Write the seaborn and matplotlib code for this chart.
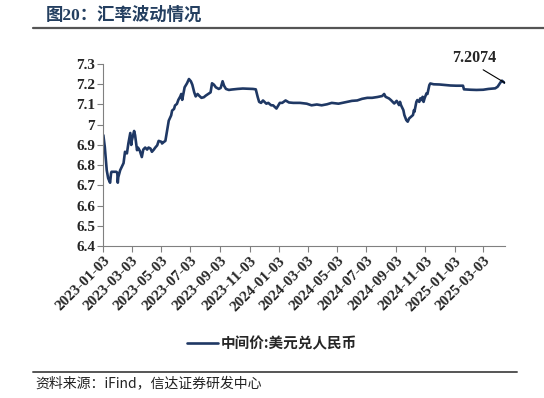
import pandas as pd
import seaborn as sns
import matplotlib.pyplot as plt

# USD/CNY central parity (approximate)
dates = [
    "2023-01-03", "2023-01-06", "2023-01-10", "2023-01-13", "2023-01-17", "2023-01-19",
    "2023-01-20", "2023-01-30", "2023-02-01", "2023-02-02", "2023-02-03", "2023-02-07",
    "2023-02-10", "2023-02-14", "2023-02-17", "2023-02-21", "2023-02-24", "2023-02-28",
    "2023-03-02", "2023-03-03", "2023-03-08", "2023-03-10", "2023-03-14", "2023-03-16",
    "2023-03-20", "2023-03-24", "2023-03-27", "2023-03-31", "2023-04-04", "2023-04-07",
    "2023-04-11", "2023-04-14", "2023-04-18", "2023-04-21", "2023-04-25", "2023-04-28",
    "2023-05-04", "2023-05-05", "2023-05-09", "2023-05-12", "2023-05-15", "2023-05-17",
    "2023-05-19", "2023-05-24", "2023-05-26", "2023-05-30", "2023-06-01", "2023-06-05",
    "2023-06-08", "2023-06-12", "2023-06-14", "2023-06-16", "2023-06-19", "2023-06-21",
    "2023-06-26", "2023-06-30", "2023-07-04", "2023-07-07", "2023-07-11", "2023-07-14",
    "2023-07-18", "2023-07-21", "2023-07-26", "2023-07-31", "2023-08-04", "2023-08-09",
    "2023-08-14", "2023-08-17", "2023-08-21", "2023-08-25", "2023-08-31", "2023-09-04",
    "2023-09-08", "2023-09-11", "2023-09-15", "2023-09-21", "2023-09-27", "2023-10-09",
    "2023-10-20", "2023-11-01", "2023-11-10", "2023-11-16", "2023-11-20", "2023-11-23",
    "2023-11-27", "2023-12-01", "2023-12-08", "2023-12-12", "2023-12-18", "2023-12-22",
    "2023-12-29", "2024-01-05", "2024-01-10", "2024-01-17", "2024-01-24", "2024-02-02",
    "2024-02-16", "2024-03-01", "2024-03-11", "2024-03-22", "2024-04-01", "2024-04-12",
    "2024-04-22", "2024-05-06", "2024-05-14", "2024-05-24", "2024-06-03", "2024-06-14",
    "2024-06-24", "2024-07-05", "2024-07-15", "2024-07-26", "2024-08-05", "2024-08-09",
    "2024-08-12", "2024-08-19", "2024-08-23", "2024-08-30", "2024-09-04", "2024-09-09",
    "2024-09-11", "2024-09-13", "2024-09-18", "2024-09-20", "2024-09-24", "2024-09-27",
    "2024-09-30", "2024-10-08", "2024-10-10", "2024-10-11", "2024-10-15", "2024-10-17",
    "2024-10-21", "2024-10-23", "2024-10-25", "2024-10-28", "2024-10-30", "2024-11-01",
    "2024-11-05", "2024-11-07", "2024-11-11", "2024-11-13", "2024-11-20", "2024-12-02",
    "2024-12-15", "2024-12-25", "2025-01-06", "2025-01-17", "2025-01-20", "2025-01-22",
    "2025-02-05", "2025-02-17", "2025-03-03", "2025-03-14", "2025-03-28", "2025-04-02",
    "2025-04-09", "2025-04-11", "2025-04-15", "2025-04-17",
]
rate = [
    6.948, 6.890, 6.775, 6.735, 6.713, 6.760,
    6.767, 6.767, 6.762, 6.713, 6.740, 6.775,
    6.790, 6.810, 6.866, 6.858, 6.907, 6.959,
    6.900, 6.920, 6.969, 6.948, 6.874, 6.887,
    6.870, 6.840, 6.877, 6.887, 6.877, 6.887,
    6.882, 6.866, 6.877, 6.887, 6.898, 6.920,
    6.915, 6.907, 6.915, 6.920, 6.964, 6.990,
    7.020, 7.046, 7.070, 7.078, 7.095, 7.103,
    7.123, 7.140, 7.152, 7.123, 7.160, 7.185,
    7.205, 7.226, 7.215, 7.198, 7.160, 7.140,
    7.152, 7.144, 7.133, 7.136, 7.144, 7.152,
    7.160, 7.205, 7.198, 7.185, 7.177, 7.182,
    7.215, 7.193, 7.177, 7.172, 7.174, 7.177,
    7.179, 7.178, 7.177, 7.175, 7.137, 7.113,
    7.108, 7.120, 7.104, 7.108, 7.096, 7.096,
    7.080, 7.108, 7.108, 7.120, 7.110, 7.108,
    7.108, 7.104, 7.096, 7.100, 7.096, 7.101,
    7.108, 7.104, 7.108, 7.113, 7.118, 7.120,
    7.128, 7.133, 7.133, 7.137, 7.142, 7.152,
    7.138, 7.130, 7.122, 7.105, 7.118, 7.097,
    7.113, 7.097, 7.072, 7.048, 7.023, 7.015,
    7.031, 7.048, 7.072, 7.064, 7.113, 7.122,
    7.113, 7.130, 7.122, 7.138, 7.113, 7.130,
    7.155, 7.152, 7.196, 7.204, 7.200, 7.199,
    7.196, 7.194, 7.193, 7.193, 7.193, 7.175,
    7.173, 7.172, 7.173, 7.177, 7.180, 7.188,
    7.213, 7.218, 7.210, 7.2074,
]
tick_dates = [
    "2023-01-03", "2023-03-03", "2023-05-03", "2023-07-03", "2023-09-03",
    "2023-11-03", "2024-01-03", "2024-03-03", "2024-05-03", "2024-07-03",
    "2024-09-03", "2024-11-03", "2025-01-03", "2025-03-03",
]
y_ticks = [6.4, 6.5, 6.6, 6.7, 6.8, 6.9, 7.0, 7.1, 7.2, 7.3]
y_labels = ["6.4", "6.5", "6.6", "6.7", "6.8", "6.9", "7", "7.1", "7.2", "7.3"]
series_name = "中间价:美元兑人民币"

df = pd.DataFrame({"date": pd.to_datetime(dates), "rate": rate})

sns.set_style("white")
plt.rcParams["font.family"] = ["Liberation Serif", "Noto Sans CJK SC", "DejaVu Sans"]

fig = plt.figure(figsize=(5.44, 3.98), dpi=100)
ax = fig.add_axes([0.19, 0.382, 0.738, 0.457])

navy = "#1f3864"
sns.lineplot(data=df, x="date", y="rate", ax=ax, color=navy, linewidth=1.9,
             label=series_name)

ax.set_xlim(df["date"].iloc[0], df["date"].iloc[-1])
ax.set_ylim(6.4, 7.3)
ax.set_yticks(y_ticks)
ax.set_yticklabels(y_labels, fontsize=11, fontweight="bold")
ax.set_xticks(pd.to_datetime(tick_dates))
ax.set_xticklabels(tick_dates, rotation=45, ha="right", rotation_mode="anchor",
                   fontsize=11, fontweight="bold")
ax.set_xlabel("")
ax.set_ylabel("")
ax.tick_params(axis="both", direction="out", length=4, width=0.8, color="#808080",
               pad=2, left=True, bottom=True)
for side in ["top", "right"]:
    ax.spines[side].set_visible(False)
for side in ["left", "bottom"]:
    ax.spines[side].set_color("#808080")
    ax.spines[side].set_linewidth(0.8)

ax.annotate("7.2074", xy=(df["date"].iloc[-1], rate[-1]), xytext=(-22, 18),
            textcoords="offset points", ha="center", va="center",
            fontsize=11.5, fontweight="bold",
            arrowprops=dict(arrowstyle="-", color="black", lw=0.8,
                            relpos=(0.55, 0.0), shrinkA=1, shrinkB=0))

leg = ax.legend(loc="center", bbox_to_anchor=(0.5, 0.138), bbox_transform=fig.transFigure,
                frameon=False, handlelength=2.1, handletextpad=0.2,
                prop={"family": ["Noto Sans CJK SC"], "size": 10.5, "weight": "bold"})

# title and rules
fig.text(0.085, 0.962, "图20：汇率波动情况", fontsize=12.5, fontweight="bold",
         color="#243f60", va="center", ha="left",
         family=["Liberation Serif", "Noto Sans CJK SC"])
fig.add_artist(plt.Line2D([0.061, 1.0], [0.93, 0.93], color="#555555", lw=1.6))
fig.add_artist(plt.Line2D([0.061, 0.95], [0.065, 0.065], color="#555555", lw=1.4))
fig.text(0.065, 0.037, "资料来源：iFind，信达证券研发中心", fontsize=10, style="italic",
         color="#222222", va="center", ha="left",
         family=["Noto Sans CJK SC", "Liberation Serif"])

fig.savefig("out.png", dpi=100)
